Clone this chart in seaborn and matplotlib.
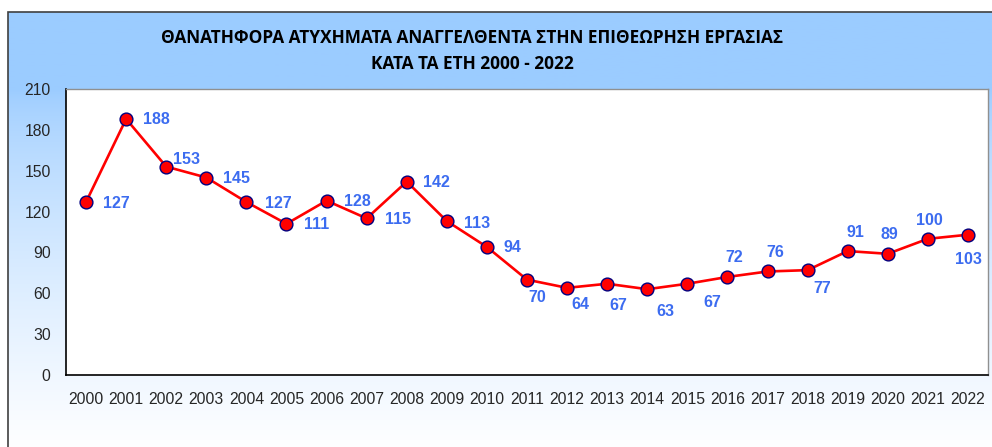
import numpy as np
import pandas as pd
import matplotlib
matplotlib.use("Agg")
import matplotlib.pyplot as plt
import seaborn as sns
from matplotlib.patches import Rectangle

# --- data ---
years = [str(y) for y in range(2000, 2023)]
deaths = [127, 188, 153, 145, 127, 111, 128, 115, 142, 113, 94, 70,
          64, 67, 63, 67, 72, 76, 77, 91, 89, 100, 103]
# label offsets (pixels) for each value label
label_dx = [30, 30, 20, 30, 32, 30, 31, 31, 30, 30, 26, 10,
            13, 11, 18, 25, 7, 8, 15, 8, 2, 2, 0]
label_dy = [-1, -1, 7, -1, -1, -1, -1, -1, -1, -2, -1, -18,
            -17, -22, -22, -19, 19, 19, -18, 19, 19, 18, -25]

title = ("ΘΑΝΑΤΗΦΟΡΑ ΑΤΥΧΗΜΑΤΑ ΑΝΑΓΓΕΛΘΕΝΤΑ ΣΤΗΝ ΕΠΙΘΕΩΡΗΣΗ ΕΡΓΑΣΙΑΣ\n"
         "ΚΑΤΑ ΤΑ ΕΤΗ 2000 - 2022")

df = pd.DataFrame({"year": years, "deaths": deaths})

sns.set_style("white")
plt.rcParams["font.family"] = ["Liberation Sans", "DejaVu Sans"]

W, H = 992, 447
fig = plt.figure(figsize=(W / 100, H / 100), dpi=100)

# background gradient panel
bg = fig.add_axes([8 / W, -0.01, 1, (H - 12) / H + 0.01])
bg.set_axis_off()
rows = 400
t = np.linspace(0, 1, rows)
f = np.clip((t - 0.18) / 0.82, 0, 1) ** 0.7
top = np.array([0.61, 0.80, 1.0])
grad = top[None, :] * (1 - f[:, None]) + np.ones(3)[None, :] * f[:, None]
bg.imshow(grad[:, None, :], aspect="auto", extent=[0, 1, 0, 1])
bg.set_xlim(0, 1)
bg.set_ylim(0, 1)
fig.patches.append(Rectangle((8 / W, -0.05), 1.2, (H - 12) / H + 0.05,
                             transform=fig.transFigure, fill=False,
                             edgecolor="#404040", linewidth=1.2, zorder=5))

fig.text(472 / W, 1 - 51 / H, title, ha="center", va="center",
         fontsize=12.4, fontweight="bold", family=["Open Sans", "DejaVu Sans"],
         linespacing=1.55, color="black")

ax = fig.add_axes([66 / W, (H - 375) / H, (988 - 66) / W, (375 - 89) / H])
ax.set_facecolor("white")
sns.lineplot(data=df, x="year", y="deaths", ax=ax, sort=False,
             color="red", linewidth=1.9, marker="o", markersize=9.2,
             markerfacecolor="red", markeredgecolor="#000080",
             markeredgewidth=1.0)

for i, v in enumerate(deaths):
    ax.annotate(str(v), (i, v), xytext=(label_dx[i], label_dy[i]),
                textcoords="offset pixels", ha="center", va="center",
                fontsize=11.5, fontweight="bold", color="#3C6CF0")

ax.set_xlim(-0.5, len(years) - 0.5)
ax.set_ylim(0, 210)
ax.set_yticks(range(0, 211, 30))
ax.set_xticks(range(len(years)))
ax.set_xticklabels(years)
ax.set_xticks(np.arange(-0.5, len(years), 1), minor=True)
ax.tick_params(axis="x", which="major", length=0, pad=12, labelsize=11.3)
ax.tick_params(axis="x", which="minor", length=5, direction="out", width=1)
ax.tick_params(axis="y", length=5, direction="out", width=1, labelsize=11.3, pad=6)
ax.set_xlabel("")
ax.set_ylabel("")
for s in ["left", "bottom"]:
    ax.spines[s].set_color("black")
    ax.spines[s].set_linewidth(1.2)
for s in ["top", "right"]:
    ax.spines[s].set_color("#909090")
    ax.spines[s].set_linewidth(1.0)

fig.savefig("out.png", dpi=100)
